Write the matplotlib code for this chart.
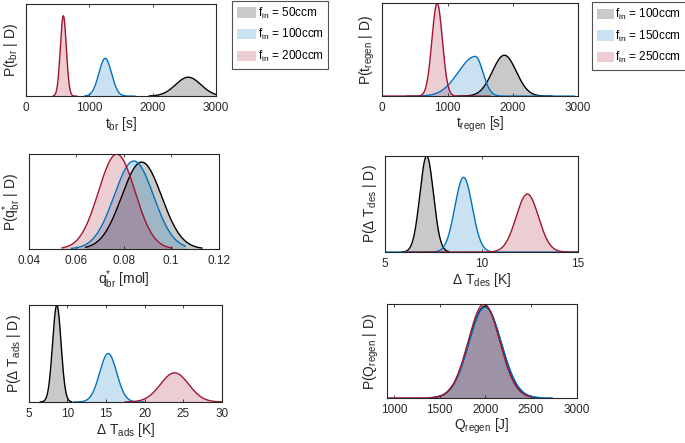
import numpy as np
import matplotlib
matplotlib.use('Agg')
import matplotlib.pyplot as plt
from matplotlib import font_manager as fm
from matplotlib.patches import Patch

# keep the narrow Liberation cut from being picked instead of the regular one
fm.fontManager.ttflist = [f for f in fm.fontManager.ttflist if 'Narrow' not in f.fname]
plt.rcParams['font.family'] = ['Liberation Sans', 'DejaVu Sans']
plt.rcParams['mathtext.default'] = 'regular'

# line colours (black, blue, red) as in MATLAB
colors = ['#000000', '#0072bd', '#a2142f']
fill_alpha = 0.21

# posterior summaries: mean, sd (left/right), drawn range
# panel 1: breakthrough time
tbr_mean = [2565, 1252, 590]
tbr_sd_l = [200, 100, 47]
tbr_sd_r = [200, 100, 47]
tbr_lo = [1950, 930, 430]
tbr_hi = [3000, 1720, 800]
tbr_labels = ['50ccm', '100ccm', '200ccm']

# panel 2: regeneration time
treg_mean = [1870, 1426, 841]
treg_sd_l = [182, 260, 80]
treg_sd_r = [182, 115, 80]
treg_lo = [1150, 370, 0]
treg_hi = [2600, 2940, 1650]
treg_labels = ['100ccm', '150ccm', '250ccm']

# panel 3: q*_br
q_mean = [0.0876, 0.0843, 0.0771]
q_sd_l = [0.0084, 0.0083, 0.0077]
q_sd_r = [0.0084, 0.0083, 0.0077]
q_lo = [0.064, 0.058, 0.054]
q_hi = [0.113, 0.106, 0.1005]

# panel 4: delta T des
tdes_mean = [7.16, 9.07, 12.37]
tdes_sd_l = [0.35, 0.45, 0.58]
tdes_sd_r = [0.35, 0.45, 0.58]
tdes_lo = [5.9, 5.0, 6.0]
tdes_hi = [8.3, 15.0, 15.0]

# panel 5: delta T ads
tads_mean = [8.63, 15.28, 23.87]
tads_sd_l = [0.55, 1.1, 1.83]
tads_sd_r = [0.55, 1.1, 1.83]
tads_lo = [6.5, 10.8, 17.5]
tads_hi = [10.5, 19.9, 30.0]

# panel 6: Q regen
qreg_mean = [1996, 1998, 1985]
qreg_sd_l = [176, 178, 172]
qreg_sd_r = [176, 178, 172]
qreg_lo = [1450, 1400, 925]
qreg_hi = [2600, 2730, 2500]


def density(x, m, sl, sr):
    # two-piece normal, unit area
    sd = np.where(x < m, sl, sr)
    return np.sqrt(2 / np.pi) / (sl + sr) * np.exp(-0.5 * ((x - m) / sd) ** 2)


def panel(rect, mean, sdl, sdr, lo, hi, xlim, xticks, xticklabels,
          xlabel, ylabel, top_frac=1.0):
    ax = fig.add_axes(rect)
    peak = 0
    for i in range(3):
        x = np.linspace(lo[i], hi[i], 300)
        y = density(x, mean[i], sdl[i], sdr[i])
        peak = max(peak, y.max())
        ax.fill_between(x, 0, y, color=colors[i], alpha=fill_alpha, lw=0)
        ax.plot(x, y, color=colors[i], lw=1.0)
    ax.set_xlim(xlim)
    ax.set_ylim(0, peak / top_frac)
    ax.set_xticks(xticks)
    ax.set_xticklabels(xticklabels)
    ax.set_yticks([])
    ax.tick_params(axis='x', direction='in', top=True, length=2.5, width=0.6,
                   labelsize=8.5, colors='#262626', pad=4)
    for s in ax.spines.values():
        s.set_color('#262626')
        s.set_linewidth(0.8)
    ax.set_xlabel(xlabel, fontsize=10, color='#262626', labelpad=1)
    ax.set_ylabel(ylabel, fontsize=10, color='#262626', labelpad=4)
    return ax


fig = plt.figure(figsize=(6.85, 4.43), dpi=100)

t_ticks = [0, 1000, 2000, 3000]
panel([0.038, 0.783, 0.277, 0.208], tbr_mean, tbr_sd_l, tbr_sd_r, tbr_lo, tbr_hi,
      [0, 3000], t_ticks, [str(t) for t in t_ticks],
      '$t_{br}$ [s]', 'P($t_{br}$ | D)', top_frac=0.873)
panel([0.558, 0.783, 0.286, 0.210], treg_mean, treg_sd_l, treg_sd_r, treg_lo, treg_hi,
      [0, 3000], t_ticks, [str(t) for t in t_ticks],
      '$t_{regen}$ [s]', 'P($t_{regen}$ | D)')
panel([0.042, 0.438, 0.277, 0.214], q_mean, q_sd_l, q_sd_r, q_lo, q_hi,
      [0.04, 0.12], [0.04, 0.06, 0.08, 0.1, 0.12],
      ['0.04', '0.06', '0.08', '0.1', '0.12'],
      '$q^{*}_{br}$ [mol]', 'P($q^{*}_{br}$ | D)')
panel([0.562, 0.431, 0.282, 0.217], tdes_mean, tdes_sd_l, tdes_sd_r, tdes_lo, tdes_hi,
      [5, 15], [5, 10, 15], ['5', '10', '15'],
      'Δ $T_{des}$ [K]', 'P(Δ $T_{des}$ | D)')
panel([0.042, 0.0926, 0.282, 0.219], tads_mean, tads_sd_l, tads_sd_r, tads_lo, tads_hi,
      [5, 30], [5, 10, 15, 20, 25, 30], ['5', '10', '15', '20', '25', '30'],
      'Δ $T_{ads}$ [K]', 'P(Δ $T_{ads}$ | D)')
q_ticks = [1000, 1500, 2000, 2500, 3000]
panel([0.565, 0.1016, 0.277, 0.212], qreg_mean, qreg_sd_l, qreg_sd_r, qreg_lo, qreg_hi,
      [925, 3000], q_ticks, [str(t) for t in q_ticks],
      '$Q_{regen}$ [J]', 'P($Q_{regen}$ | D)')


def legend(labels, anchor, hl):
    handles = [Patch(facecolor=c, alpha=fill_alpha, edgecolor='none') for c in colors]
    lg = fig.legend(handles, ['$f_{in}$ = ' + l for l in labels], loc='upper left',
                    bbox_to_anchor=anchor, fontsize=8.5, frameon=True, fancybox=False,
                    handlelength=hl, handleheight=0.95, handletextpad=0.15,
                    borderpad=0.4, labelspacing=0.55, borderaxespad=0)
    lg.get_frame().set_edgecolor('#262626')
    lg.get_frame().set_linewidth(0.8)


legend(tbr_labels, (0.339, 0.998), 1.6)
legend(treg_labels, (0.864, 0.995), 1.45)

fig.savefig('out.png', dpi=100)
